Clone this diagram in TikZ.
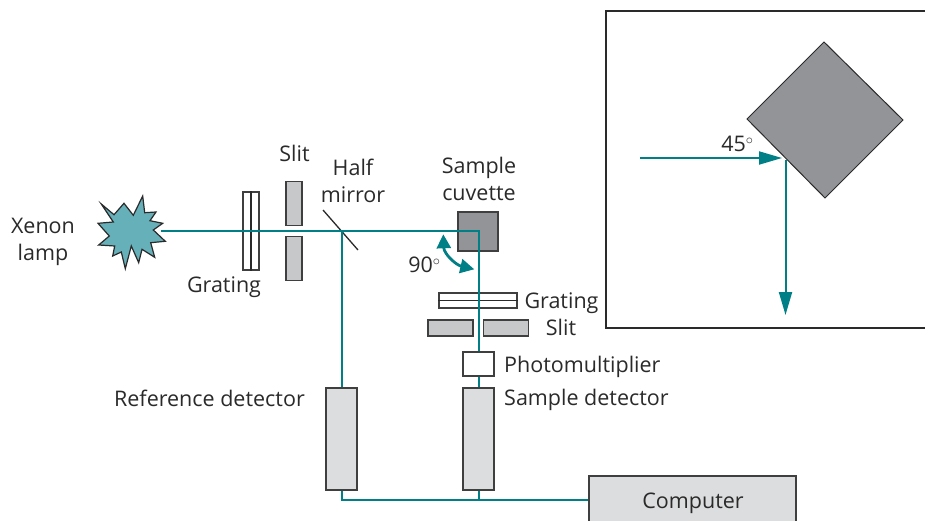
\documentclass[tikz,border=0pt]{standalone}
\usepackage{fontspec}
\setmainfont{Open Sans}
\usetikzlibrary{arrows.meta}
\definecolor{FLteal}{HTML}{007F86}
\definecolor{FLlamp}{HTML}{65B0B9}
\definecolor{FLslit}{HTML}{C7C8CA}
\definecolor{FLdet}{HTML}{DCDDDE}
\definecolor{FLcuv}{HTML}{929497}
\definecolor{FLink}{HTML}{2B2A2B}
\tikzset{FLbox/.style={rectangle,draw=FLink!90,line width=1.1pt,inner sep=0pt},
         FLbeam/.style={draw=FLteal,line width=2pt},
         FLtip/.style={-{Triangle[length=23pt,width=13pt]}},
         FLlab/.style={font=\fontsize{21.5pt}{26.5pt}\selectfont,text=FLink,align=center,inner sep=0pt}}
\begin{document}
\begin{tikzpicture}[x=1pt,y=-1pt]
    \useasboundingbox (0,0) rectangle (925,521);
    \clip (0,0) rectangle (925,521);
    \foreach \n/\x/\y/\w/\h/\c in {grA/251/231/16/78/white,slA/294/203.5/16/44/FLslit,slB/294/258.5/16/44/FLslit,
        cuv/478/231.5/40/39/FLcuv,grB/478/300.5/78/15/white,slC/450.5/328/45/16/FLslit,slD/506/328/45/16/FLslit,
        pmt/478.5/364/31/24/white,rdet/341.5/439/31/102/FLdet,sdet/478.5/439/31/102/FLdet,comp/692.5/510/207/68/FLdet}
      {\node[FLbox,fill=\c,minimum width=\w pt,minimum height=\h pt] (\n) at (\x,\y) {};}
    \draw[FLink,line width=1.1pt] (grA.north) -- (grA.south);
    \draw[FLink,line width=1.1pt] (grB.west) -- (grB.east);
    \filldraw[fill=FLlamp,draw=FLink,line width=1.2pt,line join=miter]
      (101.3,204)--(114,214.7)--(124,203.3)--(133.3,215.3)--(142.7,196)--(144.7,212.7)--(156,212)--(150,220.7)
      --(162.7,223.3)--(153.3,230)--(165.3,241.3)--(150.7,242.7)--(154.7,257.3)--(142,249.3)--(138.7,262.7)
      --(131.3,246)--(125.3,268.7)--(121.3,252)--(112.7,256)--(114.7,246)--(98.7,245)--(109.3,236)--(98,223.3)--(113.3,222)--cycle;
    \coordinate (lampout) at (161,231);
    \coordinate (split) at (341.5,231);
    \coordinate (turn) at (478.5,231);
    \coordinate (mirA) at (323,210);
    \coordinate (mirB) at (358,250);
    \coordinate (wireA) at (341.5,500);
    \coordinate (wireB) at (478.5,500);
    \draw[FLink,line width=1.3pt] (mirA) -- (mirB);
    \draw[FLbeam] (lampout) -- (turn) -- (pmt);
    \draw[FLbeam] (split) -- (rdet);
    \draw[FLbeam] (pmt) -- (sdet);
    \draw[FLbeam] (rdet) -- (wireA) -- (wireA -| comp.west);
    \draw[FLbeam] (sdet) -- (wireB);
    % turning angle at the cuvette
    \coordinate (angA) at (443.3,234.3);
    \coordinate (angB) at (474.3,269.3);
    \draw[FLbeam,line width=2.8pt,{Triangle[length=14pt,width=14pt]}-{Triangle[length=14pt,width=14pt]},FLteal]
      (angA) .. controls (444,254) and (456,265) .. (angB);
    % inset
    \draw[FLink,line width=1.2pt] (925,11) -- (606,11) -- (606,328) -- (925,328);
    \coordinate (dN) at (824,42);
    \coordinate (dE) at (903,120);
    \coordinate (dS) at (825,198);
    \coordinate (dW) at (747,119);
    \filldraw[fill=FLcuv,draw=FLink,line width=1pt] (dN) -- (dE) -- (dS) -- (dW) -- cycle;
    \coordinate (inA) at (640,158);
    \coordinate (inB) at (782,158);
    \coordinate (inC) at (785.5,160);
    \coordinate (inD) at (785.5,315);
    \draw[FLbeam,FLtip,FLteal] (inA) -- (inB);
    \draw[FLbeam,FLtip,FLteal] (inC) -- (inD);
    \foreach \n/\x/\y/\l in {lslit/294.5/153/Slit,lhalf/353/181/{Half\\mirror},lcuv/479/179/{Sample\\cuvette},
        llamp/43/242/{Xenon\\lamp},lgrA/224/287/Grating,lang/424.5/265/{90$^\circ$},lgrB/561.5/303/Grating,
        lslit2/561/327.5/Slit,lin/737.5/144/{45$^\circ$},lcomp/693/503/Computer}
      {\node[FLlab] (\n) at (\x,\y) {\l};}
    \node[FLlab,anchor=west] (lpmt) at (504,367) {Photomultiplier};
    \node[FLlab,anchor=west] (lsdet) at (504,400) {Sample detector};
    \node[FLlab,anchor=east] (lrdet) at (305,398) {Reference detector};
\end{tikzpicture}
\end{document}
